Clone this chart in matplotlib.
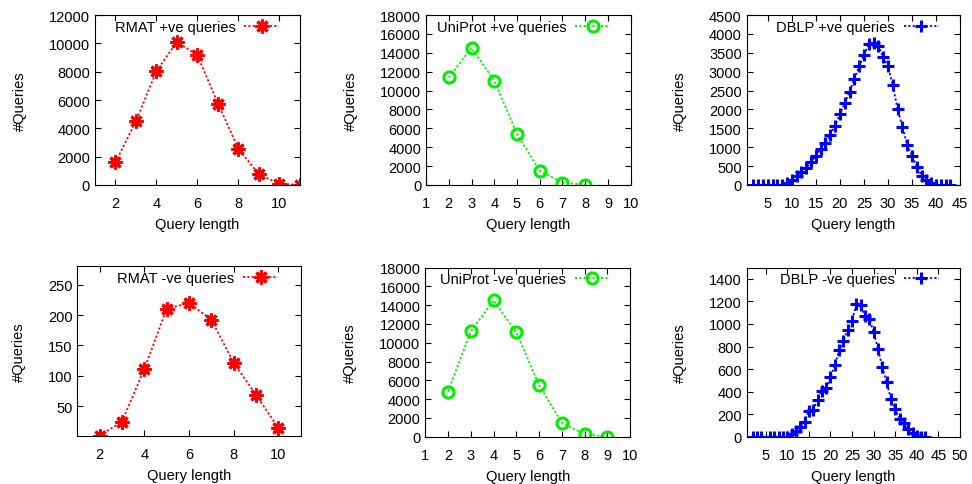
import matplotlib.pyplot as plt

plt.rcParams['font.family'] = ['Liberation Sans', 'DejaVu Sans']
plt.rcParams['font.size'] = 10.5

# RMAT
rmat_pos_len = [2, 3, 4, 5, 6, 7, 8, 9, 10, 11]
rmat_pos = [1600, 4500, 8050, 10100, 9150, 5750, 2550, 750, 100, 0]
rmat_neg_len = [2, 3, 4, 5, 6, 7, 8, 9, 10]
rmat_neg = [2, 25, 111, 210, 220, 192, 122, 69, 15]

# UniProt
uni_pos_len = [2, 3, 4, 5, 6, 7, 8]
uni_pos = [11400, 14500, 11050, 5400, 1500, 250, 20]
uni_neg_len = [2, 3, 4, 5, 6, 7, 8, 9]
uni_neg = [4800, 11200, 14500, 11100, 5500, 1500, 250, 20]

# DBLP
dblp_pos_len = list(range(2, 44))
dblp_pos = [0, 0, 0, 0, 0, 0, 0, 50, 130, 250, 340, 450, 600, 780, 950,
            1120, 1330, 1570, 1880, 2160, 2470, 2800, 3150, 3440, 3720,
            3770, 3680, 3390, 3140, 2640, 2010, 1545, 1060, 780, 480, 250,
            140, 60, 10, 0, 0, 0]
dblp_neg_len = [2, 3, 4] + list(range(6, 43))
dblp_neg = [0, 0, 0, 0, 0, 0, 0, 0, 24, 53, 89, 133, 231, 240, 326, 408,
            432, 527, 635, 765, 850, 950, 1030, 1175, 1165, 1074, 1045, 926,
            778, 616, 482, 334, 246, 157, 118, 68, 30, 9, 0, 0]

fig = plt.figure(figsize=(9.72, 4.85), dpi=100)


def panel(rect, x, y, label, color, marker, ms, xlim, ylim, xticks, yticks):
    ax = fig.add_axes(rect)
    ax.plot(x, y, color=color, linestyle=(0, (1.2, 1.2)), linewidth=1.3,
            marker=marker, markersize=ms, markeredgewidth=2.2,
            markerfacecolor='none', markeredgecolor=color, label=label)
    ax.set_xlim(*xlim)
    ax.set_ylim(*ylim)
    ax.set_xticks(xticks)
    ax.set_yticks(yticks)
    ax.tick_params(direction='in', top=True, right=True, length=4, width=0.8)
    ax.tick_params(axis='x', pad=8)
    ax.set_xlabel('Query length', labelpad=5)
    ax.set_ylabel('#Queries', labelpad=16)
    ax.legend(loc='center right', bbox_to_anchor=(0.9, 0.93), frameon=False,
              markerfirst=False, borderpad=0, borderaxespad=0,
              handlelength=2.4, handletextpad=0.6)
    return ax


star = (8, 2, 0)
panel([0.0977, 0.6165, 0.2109, 0.3505], rmat_pos_len, rmat_pos,
      'RMAT +ve queries', '#ff0000', star, 10, (1, 11), (0, 12000),
      range(2, 11, 2), range(0, 12001, 2000))
panel([0.4383, 0.6165, 0.2106, 0.3505], uni_pos_len, uni_pos,
      'UniProt +ve queries', '#00ee00', 'o', 8, (1, 10), (0, 18000),
      range(1, 11), range(0, 18001, 2000))
panel([0.7682, 0.6165, 0.2195, 0.3505], dblp_pos_len, dblp_pos,
      'DBLP +ve queries', '#0000ff', '+', 8.5, (0.6, 45), (0, 4500),
      range(5, 46, 5), range(0, 4501, 500))
panel([0.0795, 0.0984, 0.2298, 0.3505], rmat_neg_len, rmat_neg,
      'RMAT -ve queries', '#ff0000', star, 10, (1, 11), (1, 280),
      range(2, 11, 2), range(50, 251, 50))
panel([0.4376, 0.0975, 0.2106, 0.3487], uni_neg_len, uni_neg,
      'UniProt -ve queries', '#00ee00', 'o', 8, (1, 10), (0, 18000),
      range(1, 11), range(0, 18001, 2000))
panel([0.7682, 0.0975, 0.2195, 0.3487], dblp_neg_len, dblp_neg,
      'DBLP -ve queries', '#0000ff', '+', 8.5, (0.6, 50), (0, 1500),
      range(5, 51, 5), range(0, 1401, 200))

fig.savefig('out.png', dpi=100)
